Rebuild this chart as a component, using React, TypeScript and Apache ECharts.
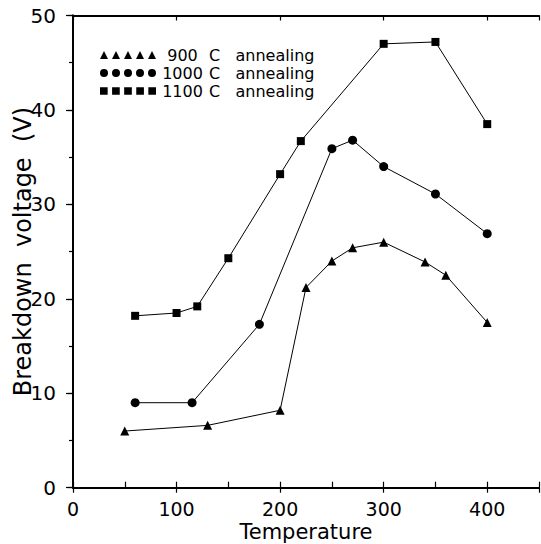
import React, { useEffect, useRef } from "react";
import * as echarts from "echarts";

// ---- data ----
const annealTemps = ["900", "1000", "1100"];
const t900X = [50, 130, 200, 225, 250, 270, 300, 340, 360, 400];
const t900Y = [6.0, 6.6, 8.2, 21.2, 24.0, 25.4, 26.0, 23.9, 22.5, 17.5];
const t1000X = [60, 115, 180, 250, 270, 300, 350, 400];
const t1000Y = [9.0, 9.0, 17.3, 35.9, 36.8, 34.0, 31.1, 26.9];
const t1100X = [60, 100, 120, 150, 200, 220, 300, 350, 400];
const t1100Y = [18.2, 18.5, 19.2, 24.3, 33.2, 36.7, 47.0, 47.2, 38.5];
const xTickLabels = [0, 100, 200, 300, 400];
const yTickLabels = [0, 10, 20, 30, 40, 50];

const FONT = "DejaVu Sans";

const zip = (xs: number[], ys: number[]) => xs.map((x, i) => [x, ys[i]]);

const centers = [4, 16, 28, 40, 52];
const triIcon = "path://" + centers.map((c) => `M${c - 4} 8L${c} 0L${c + 4} 8Z`).join("");
const cirIcon =
  "path://" + centers.map((c) => `M${c - 4} 4A4 4 0 1 0 ${c + 4} 4A4 4 0 1 0 ${c - 4} 4Z`).join("");
const sqIcon = "path://" + centers.map((c) => `M${c - 3.8} 0.5L${c + 3.8} 0.5L${c + 3.8} 8L${c - 3.8} 8Z`).join("");

export default function App() {
  const ref = useRef<HTMLDivElement>(null);
  useEffect(() => {
    if (!ref.current) return;
    const chart = echarts.init(ref.current, undefined, { renderer: "svg" });
    const names = annealTemps.map((t) => `${t} C annealing`);
    const seriesData = [zip(t900X, t900Y), zip(t1000X, t1000Y), zip(t1100X, t1100Y)];
    const symbols = ["triangle", "circle", "rect"];
    const symSizes = [9, 9, 8];
    const icons = [triIcon, cirIcon, sqIcon];
    const common = { min: 0, max: 450 };
    chart.setOption({
      animation: false,
      backgroundColor: "#fff",
      textStyle: { fontFamily: FONT, color: "#000" },
      grid: { left: 73, right: 2, top: 15.5, bottom: 56.3, containLabel: false, outerBoundsMode: "none" },
      legend: {
        orient: "vertical",
        left: 95,
        top: 41,
        itemWidth: 56,
        itemHeight: 8,
        itemGap: 0,
        selectedMode: false,
        data: names.map((n, i) => ({ name: n, icon: icons[i] })),
        formatter: (name: string) => `{n|${name.split(" ")[0]}} C   annealing`,
        textStyle: {
          fontFamily: FONT,
          fontSize: 16,
          color: "#000",
          lineHeight: 18,
          rich: { n: { width: 43, align: "right", fontFamily: FONT, fontSize: 16, color: "#000" } },
        },
      },
      xAxis: [
        {
          type: "value",
          ...common,
          interval: 100,
          position: "bottom",
          name: "Temperature",
          nameLocation: "middle",
          nameGap: 34,
          nameMoveOverlap: false,
          nameTextStyle: { fontFamily: FONT, fontSize: 21, color: "#000", lineHeight: 21 },
          axisLine: { show: true, lineStyle: { color: "#000", width: 2 } },
          axisTick: { show: true, inside: false, length: 5, lineStyle: { color: "#000", width: 1.2 } },
          axisLabel: {
            margin: 12,
            fontFamily: FONT,
            fontSize: 19,
            color: "#000",
            lineHeight: 18,
            formatter: (v: number) => (xTickLabels.includes(v) ? String(v) : ""),
          },
          splitLine: { show: false },
        },
        {
          type: "value",
          ...common,
          interval: 50,
          position: "bottom",
          axisLine: { show: false },
          axisTick: { show: true, inside: true, length: 6, lineStyle: { color: "#000", width: 1.2 } },
          axisLabel: { show: false },
          splitLine: { show: false },
        },
        {
          type: "value",
          ...common,
          interval: 100,
          position: "top",
          axisLine: { show: true, lineStyle: { color: "#000", width: 1.8 } },
          axisTick: { show: true, inside: true, length: 5, lineStyle: { color: "#000", width: 1.2 } },
          axisLabel: { show: false },
          splitLine: { show: false },
        },
      ],
      yAxis: [
        {
          type: "value",
          min: 0,
          max: 50,
          interval: 10,
          position: "left",
          name: "Breakdown  voltage  (V)",
          nameLocation: "middle",
          nameGap: 38,
          nameMoveOverlap: false,
          nameTextStyle: { fontFamily: FONT, fontSize: 24, color: "#000" },
          axisLine: { show: true, lineStyle: { color: "#000", width: 2 } },
          axisTick: { show: true, inside: false, length: 7, lineStyle: { color: "#000", width: 1.2 } },
          minorTick: { show: true, splitNumber: 2, length: 4, lineStyle: { color: "#000", width: 1.2 } },
          axisLabel: {
            margin: 17,
            fontFamily: FONT,
            fontSize: 20,
            color: "#000",
            formatter: (v: number) => (yTickLabels.includes(v) ? String(v) : ""),
          },
          splitLine: { show: false },
        },
        {
          type: "value",
          min: 0,
          max: 50,
          interval: 10,
          position: "right",
          axisLine: { show: true, lineStyle: { color: "#000", width: 1.8 } },
          axisTick: { show: true, inside: true, length: 5, lineStyle: { color: "#000", width: 1.2 } },
          axisLabel: { show: false },
          splitLine: { show: false },
        },
      ],
      series: names.map((n, i) => ({
        name: n,
        type: "line",
        xAxisIndex: 0,
        yAxisIndex: 0,
        data: seriesData[i],
        symbol: symbols[i],
        symbolSize: symSizes[i],
        showSymbol: true,
        color: "#000",
        itemStyle: { color: "#000" },
        lineStyle: { color: "#000", width: 1 },
        emphasis: { disabled: true },
      })),
    });
    return () => chart.dispose();
  }, []);
  return <div ref={ref} style={{ width: 541, height: 544, position: "absolute", left: 0, top: 0 }} />;
}
